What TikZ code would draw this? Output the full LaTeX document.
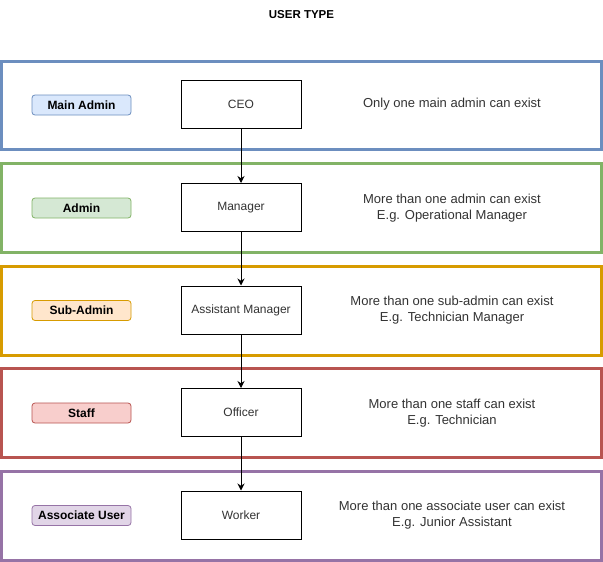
\documentclass[tikz,border=0pt]{standalone}
\usepackage{fontspec}
\setmainfont{Liberation Sans}
\usetikzlibrary{arrows.meta}
\definecolor{txt}{HTML}{333333}
\definecolor{bluD}{HTML}{6C8EBF}\definecolor{bluF}{HTML}{DAE8FC}
\definecolor{grnD}{HTML}{82B366}\definecolor{grnF}{HTML}{D5E8D4}
\definecolor{orgD}{HTML}{D79B00}\definecolor{orgF}{HTML}{FFE6CC}
\definecolor{redD}{HTML}{B85450}\definecolor{redF}{HTML}{F8CECC}
\definecolor{purD}{HTML}{9673A6}\definecolor{purF}{HTML}{E1D5E7}
\tikzset{
  band/.style={draw=#1, line width=3pt},
  pill/.style 2 args={draw=#1, fill=#2, rounded corners=3pt, line width=0.8pt,
    minimum width=99pt, minimum height=20pt, inner sep=0pt,
    font=\fontsize{12}{14}\selectfont\bfseries, text=black},
  rolebox/.style={draw=black, fill=white, line width=1pt, minimum width=120pt,
    minimum height=48pt, inner sep=0pt, font=\fontsize{12}{14}\selectfont, text=txt},
  desc/.style={align=center, font=\fontsize{13}{16.5}\selectfont, text=txt, inner sep=0pt},
  conn/.style={draw=black, line width=1pt, -{Stealth[length=7pt,width=7pt]}}
}
\begin{document}
\begin{tikzpicture}[x=1pt,y=-1pt]
\useasboundingbox (0,0) rectangle (603,562);
\fill[white] (0,0) rectangle (603,562);
\node[font=\fontsize{11.5}{13}\selectfont\bfseries, text=black] (title) at (301.5,15) {USER TYPE};
% bands
\draw[band=bluD] (1.5,61) rectangle (601.5,149.5);
\draw[band=grnD] (1.5,163.5) rectangle (601.5,252);
\draw[band=orgD] (1.5,266) rectangle (601.5,355);
\draw[band=redD] (1.5,368.5) rectangle (601.5,457.5);
\draw[band=purD] (1.5,471) rectangle (601.5,560);
% pills
\node[pill={bluD}{bluF}] (p1) at (81.5,105) {Main Admin};
\node[pill={grnD}{grnF}] (p2) at (81.5,208) {Admin};
\node[pill={orgD}{orgF}] (p3) at (81.5,310.5) {Sub-Admin};
\node[pill={redD}{redF}] (p4) at (81.5,413) {Staff};
\node[pill={purD}{purF}] (p5) at (81.5,515.5) {Associate User};
% role boxes
\node[rolebox] (b1) at (241,104) {CEO};
\node[rolebox] (b2) at (241,207.5) {Manager};
\node[rolebox] (b3) at (241,310) {Assistant Manager};
\node[rolebox] (b4) at (241,412.5) {Officer};
\node[rolebox] (b5) at (241,515) {Worker};
% descriptions
\node[desc] (d1) at (452,104) {Only one main admin can exist};
\node[desc] (d2) at (452,208) {More than one admin can exist\\E.g. Operational Manager};
\node[desc] (d3) at (452,310) {More than one sub-admin can exist\\E.g. Technician Manager};
\node[desc] (d4) at (452,413) {More than one staff can exist\\E.g. Technician};
\node[desc] (d5) at (452,515) {More than one associate user can exist\\E.g. Junior Assistant};
% connectors
\draw[conn] (b1) -- (b2);
\draw[conn] (b2) -- (b3);
\draw[conn] (b3) -- (b4);
\draw[conn] (b4) -- (b5);
\end{tikzpicture}
\end{document}
